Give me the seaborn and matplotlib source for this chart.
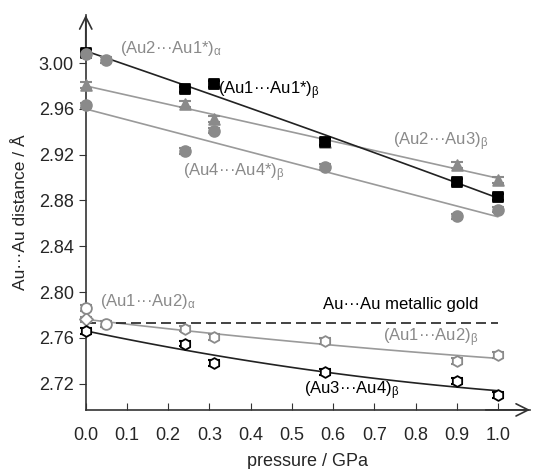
import numpy as np
import pandas as pd
import matplotlib
matplotlib.use("Agg")
import matplotlib.pyplot as plt
import seaborn as sns

# ---- data ----
p_beta = [0.0, 0.24, 0.31, 0.58, 0.90, 1.00]
au1_au1s_beta = [3.009, 2.977, 2.982, 2.931, 2.896, 2.883]   # black squares
au2_au3_beta = [2.981, 2.964, 2.951, 2.931, 2.911, 2.898]    # gray triangles
au4_au4s_beta = [2.963, 2.923, 2.941, 2.909, 2.866, 2.872]   # gray circles
au1_au2_beta = [2.776, 2.768, 2.761, 2.757, 2.740, 2.745]    # gray open hexagons
au3_au4_beta = [2.766, 2.755, 2.738, 2.730, 2.722, 2.710]    # black open hexagons
p_alpha = [0.0, 0.05]
au2_au1s_alpha = [3.008, 3.003]
au1_au2_alpha = [2.786, 2.772]
metallic_gold = 2.773
err = 0.0025

xticks = [0.0, 0.1, 0.2, 0.3, 0.4, 0.5, 0.6, 0.7, 0.8, 0.9, 1.0]
yticks = [2.72, 2.76, 2.80, 2.84, 2.88, 2.92, 2.96, 3.00]

sns.set_style("ticks")
plt.rcParams['font.family'] = ['Liberation Sans', 'DejaVu Sans']
plt.rcParams['mathtext.fontset'] = 'custom'
plt.rcParams['mathtext.rm'] = 'Liberation Sans'
plt.rcParams['mathtext.it'] = 'Liberation Sans'

GRAY = '#8a8a8a'
LGRAY = '#9a9a9a'

fig = plt.figure(figsize=(5.36, 4.69), dpi=100)
ax = fig.add_axes([0.160, 0.126, 0.829, 0.842])

xs = np.linspace(0, 1.0, 100)

def fit_line(x, y, deg, color):
    c = np.polyfit(x, y, deg)
    df = pd.DataFrame({'x': xs, 'y': np.polyval(c, xs)})
    sns.lineplot(data=df, x='x', y='y', color=color, lw=1.2, ax=ax, zorder=2)

fit_line(p_beta, au2_au3_beta, 1, LGRAY)
fit_line(p_beta, au4_au4s_beta, 1, LGRAY)
fit_line(p_beta, au1_au1s_beta, 2, '#222222')
fit_line(p_beta, au1_au2_beta, 2, LGRAY)
fit_line(p_beta, au3_au4_beta, 2, '#222222')

ax.plot([0, 1.0], [metallic_gold, metallic_gold], ls=(0, (6, 3)), color='#222222', lw=1.2, zorder=2)

def pts(x, y, marker, face, edge, size=60, lw=1.3):
    ax.errorbar(x, y, yerr=err, fmt='none', ecolor=edge, capsize=4, elinewidth=1, capthick=1.5,
                zorder=3, clip_on=False)
    df = pd.DataFrame({'x': x, 'y': y})
    sns.scatterplot(data=df, x='x', y='y', marker=marker, color=face, edgecolor=edge,
                    linewidth=lw, s=size, ax=ax, zorder=4, clip_on=False)

pts(p_beta, au4_au4s_beta, 'o', GRAY, GRAY)
pts(p_beta, au2_au3_beta, '^', GRAY, GRAY)
pts(p_beta, au1_au1s_beta, 's', 'black', 'black', size=50)
pts(p_alpha, au2_au1s_alpha, 'o', GRAY, GRAY)
pts(p_beta[1:], au1_au2_beta[1:], 'h', 'white', GRAY)
pts(p_beta[:1], au1_au2_beta[:1], 'D', 'white', GRAY, size=45)
pts(p_beta, au3_au4_beta, 'h', 'white', 'black')
pts(p_alpha, au1_au2_alpha, 'o', 'white', GRAY)

fs = 12
ax.text(0.083, 3.013, r'(Au2···Au1*)$_{\alpha}$', color=GRAY, fontsize=fs, va='center')
ax.text(0.32, 2.976, r'(Au1···Au1*)$_{\beta}$', color='black', fontsize=fs, va='center')
ax.text(0.745, 2.9315, r'(Au2···Au3)$_{\beta}$', color=GRAY, fontsize=fs, va='center')
ax.text(0.236, 2.904, r'(Au4···Au4*)$_{\beta}$', color=GRAY, fontsize=fs, va='center')
ax.text(0.034, 2.7916, r'(Au1···Au2)$_{\alpha}$', color=GRAY, fontsize=fs, va='center')
ax.text(0.575, 2.7887, 'Au···Au metallic gold', color='black', fontsize=fs, va='center')
ax.text(0.72, 2.760, r'(Au1···Au2)$_{\beta}$', color=GRAY, fontsize=fs, va='center')
ax.text(0.53, 2.7136, r'(Au3···Au4)$_{\beta}$', color='black', fontsize=fs, va='center')

ax.set_xlim(0, 1.078)
ax.set_ylim(2.697, 3.042)
ax.set_xticks(xticks)
ax.set_xticklabels([f'{v:.1f}' for v in xticks])
ax.set_yticks(yticks)
ax.set_yticklabels([f'{v:.2f}' for v in yticks])
ax.tick_params(axis='x', direction='in', length=5, labelsize=13, pad=12, color='#333333')
ax.tick_params(axis='y', direction='out', length=5, labelsize=13, color='#333333')
ax.set_xlabel('pressure / GPa', fontsize=13, labelpad=7)
ax.set_ylabel('Au···Au distance / Å', fontsize=12.5, labelpad=8)

for side in ['top', 'right']:
    ax.spines[side].set_visible(False)
for side in ['left', 'bottom']:
    ax.spines[side].set_color('#333333')
    ax.spines[side].set_linewidth(1.2)

ax.annotate('', xy=(0, 1.0), xytext=(0, 0.9), xycoords='axes fraction',
            arrowprops=dict(arrowstyle='->', lw=1.2, color='#333333', mutation_scale=22,
                            shrinkA=0, shrinkB=0))
ax.annotate('', xy=(1.0, 0), xytext=(0.9, 0), xycoords='axes fraction',
            arrowprops=dict(arrowstyle='->', lw=1.2, color='#333333', mutation_scale=22,
                            shrinkA=0, shrinkB=0))

fig.savefig('out.png', dpi=100)
